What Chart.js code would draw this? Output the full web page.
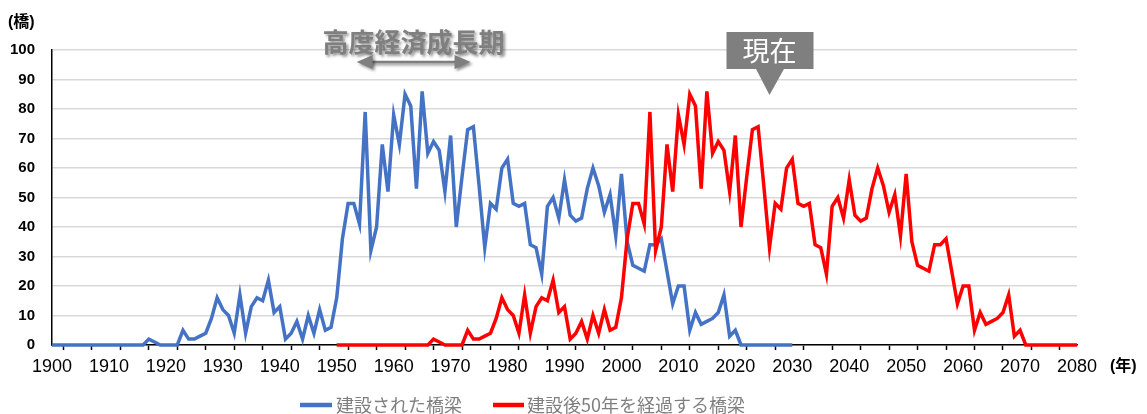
<!DOCTYPE html>
<html lang="ja">
<head>
<meta charset="utf-8">
<title>建設された橋梁と建設後50年を経過する橋梁</title>
<script src="https://cdn.jsdelivr.net/npm/chart.js@4/dist/chart.umd.min.js"></script>
<style>
  body { margin: 0; background: #fff; }
  canvas { display: block; }
</style>
</head>
<body>
<canvas id="bridgeChart" width="1147" height="414"></canvas>
<script>
// ===== Data =====
const startYear = 1900;
const endYear = 2080;
const agingYears = 50;

// bridges built per year, 1900 .. 2030
const builtBridges = [
  0, 0, 0, 0, 0, 0, 0, 0, 0, 0,          // 1900
  0, 0, 0, 0, 0, 0, 0, 2, 1, 0,          // 1910
  0, 0, 0, 5, 2, 2, 3, 4, 9, 16,         // 1920
  12, 10, 4, 17, 4, 13, 16, 15, 22, 11,  // 1930
  13, 2, 4, 8, 2, 10, 4, 12, 5, 6,       // 1940
  16, 36, 48, 48, 41, 79, 32, 40, 68, 52, // 1950
  78, 68, 85, 81, 53, 86, 65, 69, 66, 52, // 1960
  71, 40, 57, 73, 74, 54, 33, 48, 46, 60, // 1970
  63, 48, 47, 48, 34, 33, 24, 47, 50, 43, // 1980
  56, 44, 42, 43, 53, 60, 54, 45, 51, 37, // 1990
  58, 35, 27, 26, 25, 34, 34, 36, 25, 14, // 2000
  20, 20, 5, 11, 7, 8, 9, 11, 17, 3,     // 2010
  5, 0, 0, 0, 0, 0, 0, 0, 0, 0,          // 2020
  0                                      // 2030
];

const yearLabels = [1900, 1910, 1920, 1930, 1940, 1950, 1960, 1970, 1980, 1990,
  2000, 2010, 2020, 2030, 2040, 2050, 2060, 2070, 2080];
const minorTicks = [1902, 1907, 1912, 1917, 1922, 1927, 1932, 1937, 1942, 1947,
  1952, 1957, 1962, 1967, 1972, 1977, 1982, 1987, 1992, 1997, 2002, 2007, 2012,
  2017, 2022, 2027, 2032, 2037, 2042, 2047, 2052, 2057, 2062, 2067, 2072, 2077];
const yTicks = [0, 10, 20, 30, 40, 50, 60, 70, 80, 90, 100];

const seriesNames = ["建設された橋梁", "建設後50年を経過する橋梁"];
const periodLabel = "高度経済成長期";
const periodRange = [1953.5, 1973.5];
const nowLabel = "現在";
const nowYear = 2026;

const builtPoints = builtBridges.map((v, i) => ({ x: startYear + i, y: v }));
const agedPoints = builtBridges.map((v, i) => ({ x: startYear + agingYears + i, y: v }));

const BLUE = "#4472C4";
const RED = "#FF0000";
const GREY = "#7F7F7F";
const CJK = "'Noto Sans CJK JP', 'Noto Sans', sans-serif";

// ===== Labels, arrow, callout and legend drawn on top =====
const extras = {
  id: "extras",
  afterDraw(chart) {
    const { ctx, scales: { x } } = chart;
    ctx.save();

    // axis units
    ctx.fillStyle = "#000";
    ctx.textBaseline = "middle";
    ctx.textAlign = "left";
    ctx.font = "bold 16px 'Liberation Sans', " + CJK;
    ctx.fillText("(橋)", 8, 23);
    ctx.fillText("(年)", 1110, 367);

    // high growth period: text + double arrow with shadow
    const ax1 = x.getPixelForValue(periodRange[0]);
    const ax2 = x.getPixelForValue(periodRange[1]);
    const ay = 62;
    ctx.shadowColor = "rgba(0,0,0,0.45)";
    ctx.shadowOffsetX = 2;
    ctx.shadowOffsetY = 2;
    ctx.shadowBlur = 3;
    ctx.fillStyle = GREY;
    ctx.font = "bold 26px " + CJK;
    ctx.textAlign = "center";
    ctx.fillText(periodLabel, (ax1 + ax2) / 2, 42);

    ctx.strokeStyle = GREY;
    ctx.lineWidth = 2.5;
    ctx.beginPath();
    ctx.moveTo(ax1 + 12, ay);
    ctx.lineTo(ax2 - 12, ay);
    ctx.stroke();
    ctx.beginPath();
    ctx.moveTo(ax1, ay);
    ctx.lineTo(ax1 + 16, ay - 7);
    ctx.lineTo(ax1 + 16, ay + 7);
    ctx.closePath();
    ctx.moveTo(ax2, ay);
    ctx.lineTo(ax2 - 16, ay - 7);
    ctx.lineTo(ax2 - 16, ay + 7);
    ctx.closePath();
    ctx.fill();

    // "now" callout
    ctx.shadowColor = "transparent";
    const cx = x.getPixelForValue(nowYear);
    ctx.fillStyle = GREY;
    ctx.fillRect(cx - 43, 32, 87, 37);
    ctx.beginPath();
    ctx.moveTo(cx - 14, 68);
    ctx.lineTo(cx + 15, 68);
    ctx.lineTo(cx, 95);
    ctx.closePath();
    ctx.fill();
    ctx.fillStyle = "#fff";
    ctx.font = "27px " + CJK;
    ctx.fillText(nowLabel, cx, 51);

    // legend
    const items = [
      { color: BLUE, x0: 300, x1: 332, tx: 336, text: seriesNames[0] },
      { color: RED, x0: 493, x1: 524, tx: 527, text: seriesNames[1] }
    ];
    ctx.textAlign = "left";
    ctx.font = "18px " + CJK;
    items.forEach(it => {
      ctx.strokeStyle = it.color;
      ctx.lineWidth = 4.5;
      ctx.beginPath();
      ctx.moveTo(it.x0, 405);
      ctx.lineTo(it.x1, 405);
      ctx.stroke();
      ctx.fillStyle = "#7F7F7F";
      ctx.fillText(it.text, it.tx, 405);
    });

    ctx.restore();
  }
};

// ===== Chart =====
document.addEventListener("DOMContentLoaded", () => {
  new Chart(document.getElementById("bridgeChart"), {
    type: "line",
    data: {
      datasets: [{
        label: seriesNames[1],
        data: agedPoints,
        borderColor: RED,
        backgroundColor: RED,
        borderWidth: 3.5,
        pointRadius: 0,
        tension: 0,
        clip: false
      }, {
        label: seriesNames[0],
        data: builtPoints,
        borderColor: BLUE,
        backgroundColor: BLUE,
        borderWidth: 3.5,
        pointRadius: 0,
        tension: 0,
        clip: false
      }]
    },
    options: {
      responsive: false,
      animation: false,
      events: [],
      layout: { padding: { top: 50, right: 70, bottom: 0, left: 0 } },
      plugins: {
        legend: { display: false },
        tooltip: { enabled: false }
      },
      scales: {
        x: {
          type: "linear",
          min: startYear,
          max: endYear,
          afterFit: s => { s.height = 69; },
          afterBuildTicks: s => {
            s.ticks = yearLabels.concat(minorTicks).sort((a, b) => a - b).map(v => ({ value: v }));
          },
          ticks: {
            autoSkip: false,
            maxRotation: 0,
            padding: 6,
            color: "#000",
            font: { family: "'Liberation Sans', Arial", size: 18 },
            callback: v => (yearLabels.includes(v) ? String(v) : "")
          },
          grid: {
            drawOnChartArea: false,
            tickLength: 5,
            tickWidth: 1.5,
            tickColor: c => (c.tick && yearLabels.includes(c.tick.value) ? "rgba(0,0,0,0)" : "#000")
          },
          border: { color: "#000", width: 1.5 }
        },
        y: {
          min: 0,
          max: 100,
          afterFit: s => { s.width = 52; },
          afterBuildTicks: s => { s.ticks = yTicks.map(v => ({ value: v })); },
          ticks: {
            padding: 17,
            color: "#000",
            font: { family: "'Liberation Sans', Arial", size: 15, weight: "bold" }
          },
          grid: { color: "#D9D9D9", lineWidth: 1.5, drawTicks: false },
          border: { color: "#000", width: 1.5 }
        }
      }
    },
    plugins: [extras]
  });
});
</script>
</body>
</html>
